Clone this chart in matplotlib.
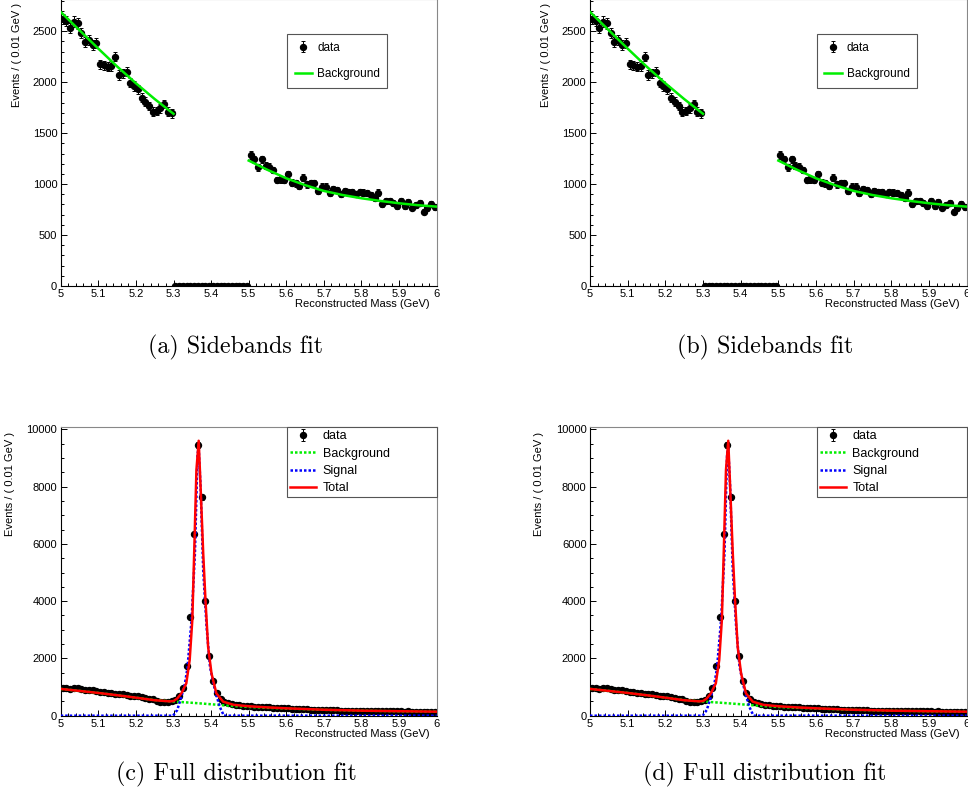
import numpy as np
import matplotlib
matplotlib.use('Agg')
import matplotlib.pyplot as plt
from matplotlib.ticker import FixedLocator, MultipleLocator

plt.rcParams['font.family'] = ['Liberation Sans', 'DejaVu Sans']

# ============================================================
# 数据
# ============================================================

# 分箱中心, 每箱 0.01 GeV
bin_centers = np.round(np.arange(5.005, 6.0, 0.01), 3)

# (a)/(b) 边带拟合的数据
sb_left = [2618, 2601, 2529, 2595, 2578, 2480, 2398, 2415, 2366, 2382,
           2176, 2166, 2153, 2160, 2251, 2071, 2088, 2104, 1996, 1963,
           1931, 1849, 1809, 1767, 1711, 1718, 1744, 1787, 1711, 1695]
sb_gap = [0] * 20
sb_right = [1286, 1244, 1165, 1244, 1178, 1172, 1139, 1041, 1048, 1041,
            1097, 1015, 1008, 982, 1064, 998, 1008, 1008, 933, 975,
            975, 910, 949, 943, 900, 936, 926, 926, 900, 920,
            917, 910, 894, 867, 917, 805, 835, 835, 812, 786,
            838, 786, 828, 769, 798, 818, 730, 763, 805, 773]

# 边带本底拟合曲线
sb_bkg_left_x = [5.0, 5.05, 5.1, 5.15, 5.2, 5.25, 5.3]
sb_bkg_left_y = [2690, 2510, 2330, 2155, 1990, 1835, 1690]
sb_bkg_right_x = [5.5, 5.55, 5.6, 5.65, 5.7, 5.75, 5.8, 5.85, 5.9, 5.95, 6.0]
sb_bkg_right_y = [1231, 1140, 1057, 990, 933, 893, 861, 835, 812, 793, 779]

# (c)/(d) 全分布拟合的数据
full_left = [955, 965, 945, 950, 958, 930, 910, 900, 885, 870,
             835, 825, 810, 795, 775, 765, 748, 730, 705, 690,
             672, 650, 628, 600, 572, 515, 480, 465, 470, 500]
full_peak = [560, 700, 960, 1750, 3430, 6350, 9450, 7620, 4010, 2080,
             1210, 780, 580, 490, 440, 410, 390, 370, 355, 340]
full_right = [330, 320, 312, 305, 296, 290, 280, 272, 265, 258,
              255, 246, 240, 232, 226, 220, 215, 210, 205, 200,
              196, 190, 190, 185, 181, 178, 175, 171, 168, 165,
              163, 160, 158, 160, 155, 152, 155, 150, 148, 150,
              147, 145, 148, 143, 142, 145, 140, 138, 142, 140]

# 本底 (绿色点线)
bkg_x = [5.0, 5.05, 5.1, 5.15, 5.2, 5.25, 5.3, 5.35, 5.4, 5.45, 5.5,
         5.55, 5.6, 5.7, 5.8, 5.9, 6.0]
bkg_y = [935, 865, 795, 715, 630, 545, 495, 450, 400, 345, 305,
         275, 250, 205, 175, 155, 140]

# 信号 (蓝色点线)
sig_x = [5.0, 5.299, 5.31, 5.321, 5.33, 5.337, 5.348, 5.357, 5.364, 5.367,
         5.372, 5.379, 5.388, 5.397, 5.41, 5.423, 5.434, 6.0]
sig_y = [0, 0, 200, 660, 1100, 1650, 3340, 5670, 9150, 9330,
         7990, 5080, 3100, 1710, 900, 310, 0, 0]

# 总和 (红色实线)
tot_x = [5.0, 5.05, 5.1, 5.15, 5.2, 5.25, 5.29, 5.3, 5.31, 5.321, 5.334,
         5.343, 5.35, 5.355, 5.361, 5.367, 5.372, 5.379, 5.385, 5.392,
         5.401, 5.414, 5.432, 5.46, 5.5, 5.55, 5.6, 5.7, 5.8, 5.9, 6.0]
tot_y = [935, 865, 795, 715, 630, 540, 500, 510, 600, 780, 1130,
         1940, 3340, 5670, 8580, 9600, 8000, 5670, 4040, 2410,
         1480, 780, 490, 380, 330, 290, 258, 208, 176, 156, 141]

xtick_vals = [5.0, 5.1, 5.2, 5.3, 5.4, 5.5, 5.6, 5.7, 5.8, 5.9, 6.0]
xtick_labels = ['5', '5.1', '5.2', '5.3', '5.4', '5.5', '5.6', '5.7', '5.8', '5.9', '6']

captions = ['(a) Sidebands fit', '(b) Sidebands fit',
            '(c) Full distribution fit', '(d) Full distribution fit']

# ============================================================
# 画图
# ============================================================

W, H = 968, 794
fig = plt.figure(figsize=(W / 100, H / 100), dpi=100)


def px_axes(x0, x1, y_top, y_bottom):
    return fig.add_axes([x0 / W, 1 - y_bottom / H, (x1 - x0) / W, (y_bottom - y_top) / H])


def style_axes(ax, ymax, ystep, yminor, label_x):
    ax.set_xlim(5, 6)
    ax.set_ylim(0, ymax)
    ax.xaxis.set_major_locator(FixedLocator(xtick_vals))
    ax.set_xticklabels(xtick_labels)
    ax.xaxis.set_minor_locator(MultipleLocator(0.02))
    ax.yaxis.set_major_locator(MultipleLocator(ystep))
    ax.yaxis.set_minor_locator(MultipleLocator(yminor))
    ax.tick_params(which='both', direction='in', top=False, right=False,
                   labelsize=8, pad=2.5, width=0.7)
    ax.tick_params(which='major', length=4.3)
    ax.tick_params(which='minor', length=2.5)
    for s in ['top', 'right']:
        ax.spines[s].set_color('#888888')
        ax.spines[s].set_linewidth(0.8)
    for s in ['left', 'bottom']:
        ax.spines[s].set_linewidth(0.8)
    ax.set_xlabel('Reconstructed Mass (GeV)', fontsize=8, ha='right')
    ax.xaxis.set_label_coords(0.982, -0.047)
    ax.set_ylabel('Events / ( 0.01 GeV )', fontsize=8, ha='right')
    ax.yaxis.set_label_coords(label_x, 0.985)


def draw_data(ax, counts):
    counts = np.asarray(counts, dtype=float)
    return ax.errorbar(bin_centers, counts, yerr=np.sqrt(counts), fmt='o',
                       color='black', ms=4.3, elinewidth=0.7, capsize=1.3,
                       capthick=0.7, label='data', zorder=2)


def sideband_panel(ax):
    counts = sb_left + sb_gap + sb_right
    h_data = draw_data(ax, counts)
    h_bkg, = ax.plot(sb_bkg_left_x, sb_bkg_left_y, color='#00ee00', lw=1.8,
                     label='Background', zorder=3)
    ax.plot(sb_bkg_right_x, sb_bkg_right_y, color='#00ee00', lw=1.8, zorder=3)
    style_axes(ax, 2817, 500, 100, -0.104)
    leg = ax.legend([h_data, h_bkg], ['data', 'Background'], loc='upper left',
                    bbox_to_anchor=(0.602, 0.686, 0.266, 0.192), mode='expand',
                    fontsize=8.5, fancybox=False, framealpha=1,
                    edgecolor='#555555', borderpad=0.65, labelspacing=1.25,
                    handlelength=1.45, handletextpad=0.45, borderaxespad=0)
    leg.get_frame().set_linewidth(0.8)


def full_panel(ax):
    counts = full_left + full_peak + full_right
    h_data = draw_data(ax, counts)
    h_bkg, = ax.plot(bkg_x, bkg_y, color='#00ee00', lw=1.8, ls=(0, (1, 0.8)), zorder=3)
    h_sig, = ax.plot(sig_x, sig_y, color='#0000ff', lw=1.8, ls=(0, (1, 0.8)), zorder=4)
    h_tot, = ax.plot(tot_x, tot_y, color='#ff0000', lw=1.8, zorder=5)
    style_axes(ax, 10070, 2000, 500, -0.121)
    leg = ax.legend([h_data, h_bkg, h_sig, h_tot],
                    ['data', 'Background', 'Signal', 'Total'], loc='upper left',
                    bbox_to_anchor=(0.602, 0.751, 0.398, 0.249), mode='expand',
                    fontsize=9, fancybox=False, framealpha=1,
                    edgecolor='#555555', borderpad=0.25, labelspacing=0.42,
                    handlelength=2.1, handletextpad=0.5, borderaxespad=0)
    leg.get_frame().set_linewidth(0.8)


ax_a = px_axes(60.7, 436.7, -1, 286)
ax_b = px_axes(590, 966.7, -1, 286)
ax_c = px_axes(60.7, 436.7, 427.3, 715.7)
ax_d = px_axes(590, 966.7, 427.3, 715.7)

sideband_panel(ax_a)
sideband_panel(ax_b)
full_panel(ax_c)
full_panel(ax_d)

# 子图标题 (LaTeX 风格)
cap_pos = [(236, 347), (765, 347), (236, 774), (765, 774)]
for (cx, cy), text in zip(cap_pos, captions):
    fig.text(cx / W, 1 - cy / H, text, family='cmr10', size=17.2,
             ha='center', va='center')

fig.savefig('out.png', dpi=100)
